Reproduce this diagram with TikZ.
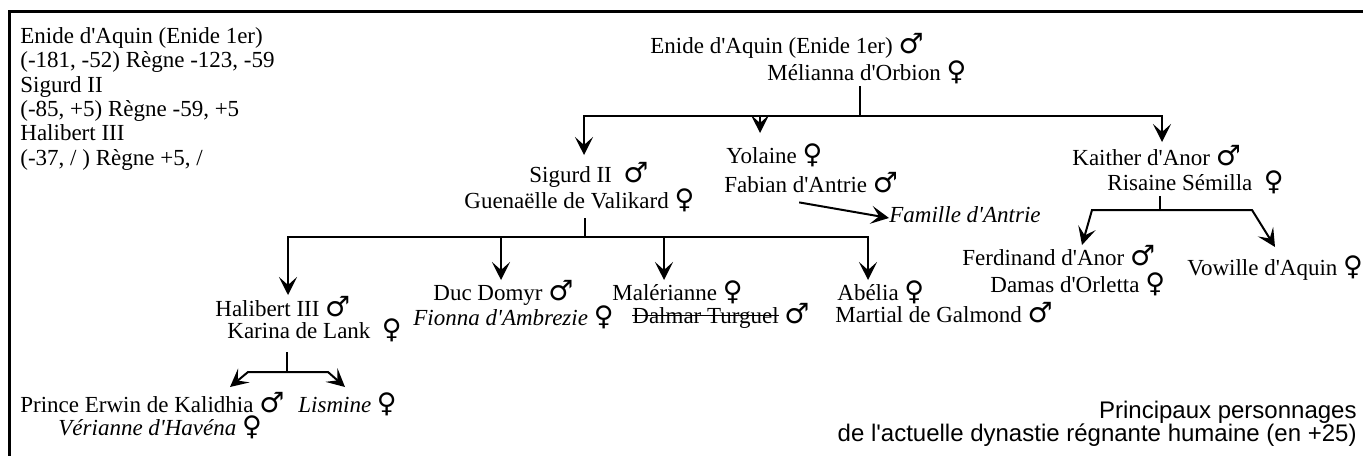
\documentclass[tikz,border=0pt]{standalone}
\usepackage{fontspec}
\setmainfont{Liberation Serif}
\setsansfont{Liberation Sans}
\newfontfamily\symbole{DejaVu Sans}
\usetikzlibrary{arrows.meta}

\newcommand{\homme}{{\symbole\fontsize{14}{14}\selectfont ♂}}
\newcommand{\femme}{{\symbole\fontsize{13.5}{14}\selectfont ♀}}
\newcommand{\ap}{\XeTeXglyph\XeTeXcharglyph"27\relax}
\newlength{\barrelen}
\newcommand{\barre}[1]{\settowidth{\barrelen}{#1}\rlap{\rule[0.3em]{\barrelen}{0.5pt}}#1}

\begin{document}
\begin{tikzpicture}[x=0.5pt,y=-0.5pt]
        \tikzstyle{perso} = [anchor=base west, inner sep=0pt, text height=7pt, text depth=3pt, font=\fontsize{11.5}{12.2}\selectfont]
        \tikzstyle{note} = [anchor=north west, inner sep=0pt, align=left, font=\fontsize{11.5}{12.2}\selectfont]
        \tikzstyle{titre} = [anchor=south east, inner sep=0pt, align=right, font=\sffamily\fontsize{12}{11.5}\selectfont]
        \tikzstyle{lien} = [line width=1pt]
        \tikzstyle{fleche} = [line width=1pt, >={Stealth[length=9pt,width=9pt,inset=4pt]}]

        \useasboundingbox (0,0) rectangle (1363,456);
        \draw[line width=1.5pt] (1363,11) -- (9,11) -- (9,456);

        \node[note] (regnes) at (20,27){Enide d\ap Aquin (Enide 1er)\\(-181, -52) Règne -123, -59\\Sigurd II\\(-85, +5) Règne -59, +5\\Halibert III\\(-37, / ) Règne +5, /};
        \node[titre] (titre) at (1357,447){Principaux personnages\\de l\ap actuelle dynastie régnante humaine (en +25)};

        \node[perso] (enide) at (650,53){Enide d\ap Aquin (Enide 1er) \homme};
        \node[perso] (melianna) at (767,80){Mélianna d\ap Orbion \femme};

        \node[perso] (sigurd) at (529,182){Sigurd II \ \homme};
        \node[perso] (guenaelle) at (464,208){Guenaëlle de Valikard \femme};
        \node[perso] (yolaine) at (726,163){Yolaine \femme};
        \node[perso] (fabian) at (724,192){Fabian d\ap Antrie \homme};
        \node[perso] (antrie) at (889,222){\textit{Famille d\ap Antrie}};
        \node[perso] (kaither) at (1072,165){Kaither d\ap Anor \homme};
        \node[perso] (risaine) at (1107,190){Risaine Sémilla \ \femme};

        \node[perso] (ferdinand) at (962,265){Ferdinand d\ap Anor \homme};
        \node[perso] (damas) at (990,292){Damas d\ap Orletta \femme};
        \node[perso] (vowille) at (1187,275){Vowille d\ap Aquin \femme};

        \node[perso] (halibert) at (215,316){Halibert III \homme};
        \node[perso] (karina) at (227,338){Karina de Lank \ \femme};
        \node[perso] (duc) at (433,300){Duc Domyr \homme};
        \node[perso] (fionna) at (413,325){\textit{Fionna d\ap Ambrezie} \femme};
        \node[perso] (malerianne) at (612,300){Malérianne \femme};
        \node[perso] (dalmar) at (632,323){\barre{Dalmar Turguel} \homme};
        \node[perso] (abelia) at (837,300){Abélia \femme};
        \node[perso] (martial) at (835,322){Martial de Galmond \homme};

        \node[perso] (erwin) at (20,412){Prince Erwin de Kalidhia \homme};
        \node[perso] (verianne) at (58,435){\textit{Vérianne d\ap Havéna} \femme};
        \node[perso] (lismine) at (298,412){\textit{Lismine} \femme};

        % premiere generation
        \coordinate (j1) at (860,116);
        \coordinate (aSigurd) at (584,155);
        \coordinate (aYolaine) at (760,133);
        \coordinate (aKaither) at (1162,142);
        \draw[lien] (melianna.south -| j1) -- (j1);
        \draw[fleche,->] (j1) -| (aSigurd);
        \draw[fleche,->] (j1) -| (aKaither);
        \draw[fleche,->] (aYolaine |- j1) -- (aYolaine);
        \draw[fleche,->] ([xshift=-6pt,yshift=-2pt]fabian.south) -- (antrie.west);

        % enfants de Sigurd II
        \coordinate (j2) at (585,237);
        \coordinate (aHalibert) at (288,295);
        \coordinate (aDuc) at (501,280);
        \coordinate (aMalerianne) at (664,280);
        \coordinate (aAbelia) at (868,280);
        \draw[lien, shorten <=2pt] (guenaelle.south -| j2) -- (j2);
        \draw[fleche,->] (j2) -| (aHalibert);
        \draw[fleche,->] (j2) -| (aAbelia);
        \draw[fleche,->] (aDuc |- j2) -- (aDuc);
        \draw[fleche,->] (aMalerianne |- j2) -- (aMalerianne);

        % enfants de Kaither
        \coordinate (j3) at (1160,210);
        \coordinate (aFerdinand) at (1082,245);
        \coordinate (aVowille) at (1275,247);
        \draw[lien] (risaine.south -| j3) -- (j3);
        \draw[fleche,<->] (aFerdinand) -- (1092,210) -- (1252,210) -- (aVowille);

        % enfants de Halibert III
        \coordinate (j4) at (287,372);
        \coordinate (aErwin) at (230,387);
        \coordinate (aLismine) at (345,387);
        \draw[lien, shorten <=4pt] (karina.south -| j4) -- (j4);
        \draw[fleche,<->] (aErwin) -- (248,372) -- (328,372) -- (aLismine);

    \end{tikzpicture}
\end{document}
